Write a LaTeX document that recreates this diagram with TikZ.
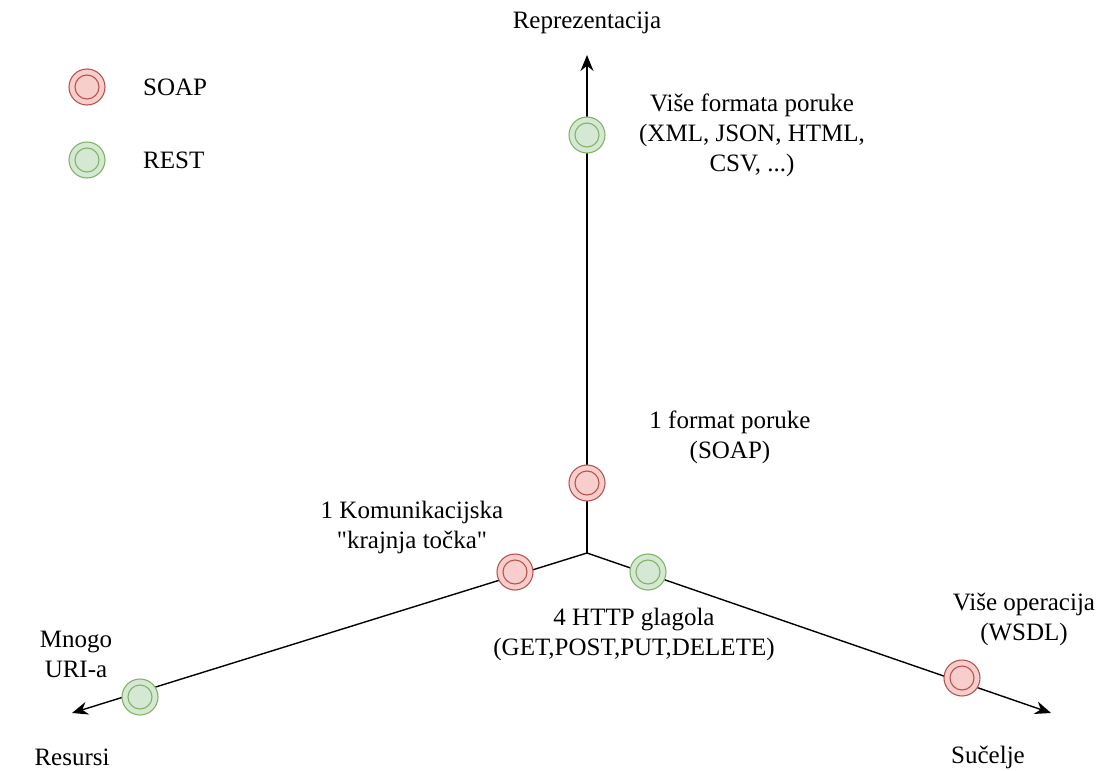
\documentclass[tikz,border=0pt]{standalone}
\usepackage{fontspec}
\setmainfont{Liberation Serif}
\usetikzlibrary{arrows.meta}

\definecolor{soapfill}{HTML}{F8CECC}
\definecolor{soapline}{HTML}{B85450}
\definecolor{restfill}{HTML}{D5E8D4}
\definecolor{restline}{HTML}{82B366}

\tikzset{
  axis/.style={line width=1.4pt,-{Stealth[length=16pt,width=13pt]}},
  soap/.style={circle,draw=soapline,fill=soapfill,line width=1.1pt,minimum size=36pt,inner sep=0pt,
    path picture={\draw[soapline,line width=1.1pt] (path picture bounding box.center) circle (12pt);}},
  rest/.style={circle,draw=restline,fill=restfill,line width=1.1pt,minimum size=36pt,inner sep=0pt,
    path picture={\draw[restline,line width=1.1pt] (path picture bounding box.center) circle (12pt);}},
  lbl/.style={align=center,font=\fontsize{25}{30}\selectfont,inner sep=0pt}
}

\begin{document}
\begin{tikzpicture}[x=1pt,y=-1pt]
          \useasboundingbox (0,0) rectangle (1101,771);
          % axes
          \coordinate (o) at (587,553);
          \coordinate (rep) at (587,55);
          \coordinate (res) at (72,713);
          \coordinate (suc) at (1051,713);
          \draw[axis] (o) -- (rep);
          \draw[axis] (o) -- (res);
          \draw[axis] (o) -- (suc);
          \node[lbl] (reptxt) at (587,23){Reprezentacija};
          \node[lbl] (restxt) at (72,757){Resursi};
          \node[lbl] (suctxt) at (988,757){Sučelje};
          % legend
          \node[soap] (legsoap) at (87,87){};
          \node[lbl,anchor=west] at (143,87){SOAP};
          \node[rest] (legrest) at (87,160){};
          \node[lbl,anchor=west] at (143,160){REST};
          % points on the axes
          \node[rest] (pmany) at (587,135){};
          \node[soap] (pone) at (587,483){};
          \node[soap] (pend) at (515,572){};
          \node[rest] (pverbs) at (648,572){};
          \node[rest] (puri) at (140,697){};
          \node[soap] (pops) at (962,678){};
          \node[lbl] at (752,135){Više formata poruke\\(XML, JSON, HTML,\\CSV, ...)};
          \node[lbl] at (730,437){1 format poruke\\(SOAP)};
          \node[lbl] at (412,527){1 Komunikacijska\\\textquotedbl krajnja točka\textquotedbl};
          \node[lbl] at (634,634){4 HTTP glagola\\(GET,POST,PUT,DELETE)};
          \node[lbl] at (1024,619){Više operacija\\(WSDL)};
          \node[lbl] at (76,654){Mnogo\\URI-a};
        \end{tikzpicture}
\end{document}
